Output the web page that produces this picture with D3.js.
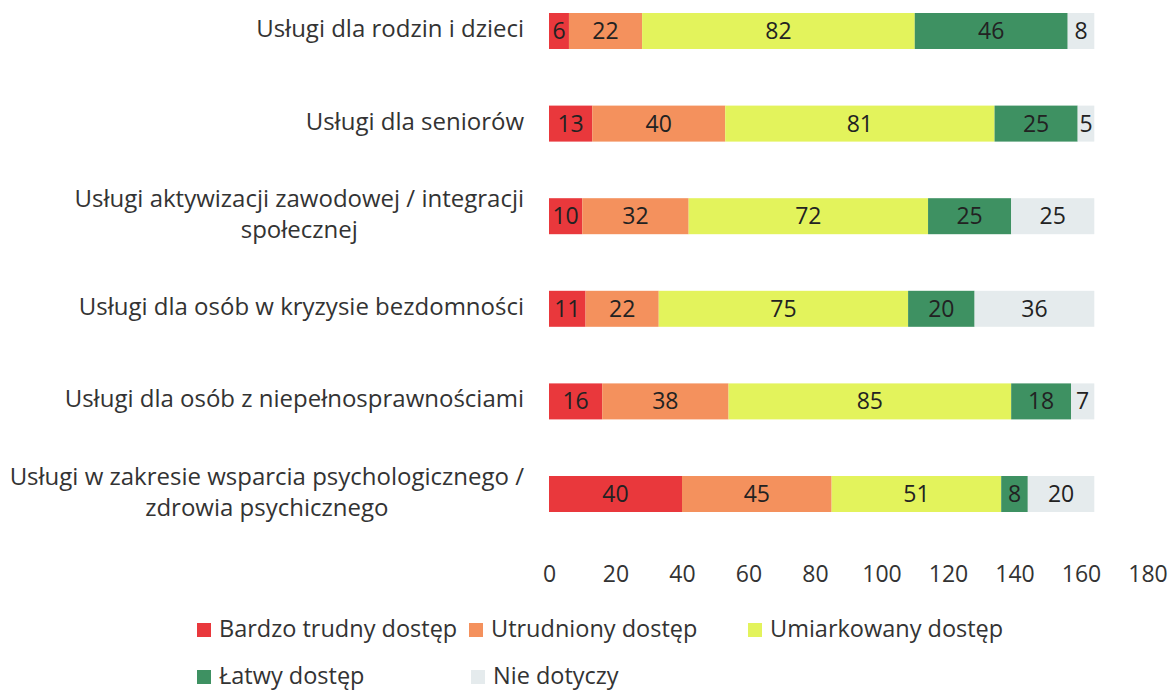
<!DOCTYPE html>
<html>
<head>
<meta charset="utf-8">
<script src="https://cdn.jsdelivr.net/npm/d3@7"></script>
<style>
  body { margin: 0; background: #fff; }
  svg text { font-family: "Open Sans", sans-serif; }
</style>
</head>
<body>
<svg id="chart" width="1171" height="690"></svg>
<script>
// categories, top to bottom (each entry = lines of the label)
var categories = [
  ["Usługi dla rodzin i dzieci"],
  ["Usługi dla seniorów"],
  ["Usługi aktywizacji zawodowej / integracji", "społecznej"],
  ["Usługi dla osób w kryzysie bezdomności"],
  ["Usługi dla osób z niepełnosprawnościami"],
  ["Usługi w zakresie wsparcia psychologicznego /", "zdrowia psychicznego"]
];
var seriesNames = ["Bardzo trudny dostęp", "Utrudniony dostęp", "Umiarkowany dostęp", "Łatwy dostęp", "Nie dotyczy"];
var bardzoTrudny = [6, 13, 10, 11, 16, 40];
var utrudniony   = [22, 40, 32, 22, 38, 45];
var umiarkowany  = [82, 81, 72, 75, 85, 51];
var latwy        = [46, 25, 25, 20, 18, 8];
var nieDotyczy   = [8, 5, 25, 36, 7, 20];
var colors = ["#e9383c", "#f4915d", "#e3f35c", "#3e9162", "#e5ebed"];
var xTicks = [0, 20, 40, 60, 80, 100, 120, 140, 160, 180];

var svg = d3.select("#chart");

var x = d3.scaleLinear().domain([0, 180]).range([549, 1147.5]);
var y = d3.scalePoint().domain(d3.range(categories.length)).range([31, 494]);
var barH = 36;

var rows = categories.map(function(c, i) {
  return { i: i, "0": bardzoTrudny[i], "1": utrudniony[i], "2": umiarkowany[i], "3": latwy[i], "4": nieDotyczy[i] };
});
var layers = d3.stack().keys(["0", "1", "2", "3", "4"])(rows);

var g = svg.append("g");
layers.forEach(function(layer, k) {
  var lg = g.append("g");
  lg.selectAll("rect").data(layer).enter().append("rect")
    .attr("x", function(d) { return x(d[0]); })
    .attr("y", function(d) { return y(d.data.i) - barH / 2; })
    .attr("width", function(d) { return x(d[1]) - x(d[0]); })
    .attr("height", barH)
    .attr("fill", colors[k]);
  lg.selectAll("text").data(layer).enter().append("text")
    .attr("x", function(d) { return (x(d[0]) + x(d[1])) / 2; })
    .attr("y", function(d) { return y(d.data.i) + 8; })
    .attr("text-anchor", "middle")
    .attr("font-size", 23)
    .attr("fill", "#222")
    .text(function(d) { return d[1] - d[0]; });
});

// category labels: lines centred on each other, block right edge at 524
categories.forEach(function(lines, i) {
  var t = svg.append("text").attr("font-size", 24).attr("fill", "#333").attr("text-anchor", "middle");
  var n = lines.length;
  var spans = lines.map(function(line, j) {
    return t.append("tspan")
      .attr("x", 0)
      .attr("y", y(i) + 6 + (j - (n - 1) / 2) * 31)
      .text(line);
  });
  var w = d3.max(spans, function(s) { return s.node().getComputedTextLength(); });
  spans.forEach(function(s) { s.attr("x", 524 - w / 2); });
});

// x axis
var axis = svg.append("g")
  .attr("transform", "translate(0,582)")
  .call(d3.axisBottom(x).tickValues(xTicks).tickSize(0).tickPadding(0));
axis.select(".domain").remove();
axis.selectAll("text")
  .attr("font-family", "Open Sans, sans-serif")
  .attr("font-size", 23)
  .attr("fill", "#333")
  .attr("y", 0)
  .attr("dy", 0);

// legend
var legendPos = [[197, 637], [469, 637], [748, 637], [197, 684], [471, 684]];
var leg = svg.append("g").selectAll("g").data(seriesNames).enter().append("g")
  .attr("transform", function(d, i) { return "translate(" + legendPos[i][0] + "," + legendPos[i][1] + ")"; });
leg.append("rect").attr("x", 0).attr("y", -14).attr("width", 14).attr("height", 14)
  .attr("fill", function(d, i) { return colors[i]; });
leg.append("text").attr("x", 22).attr("font-size", 23.5).attr("fill", "#333")
  .text(function(d) { return d; });
</script>
</body>
</html>
